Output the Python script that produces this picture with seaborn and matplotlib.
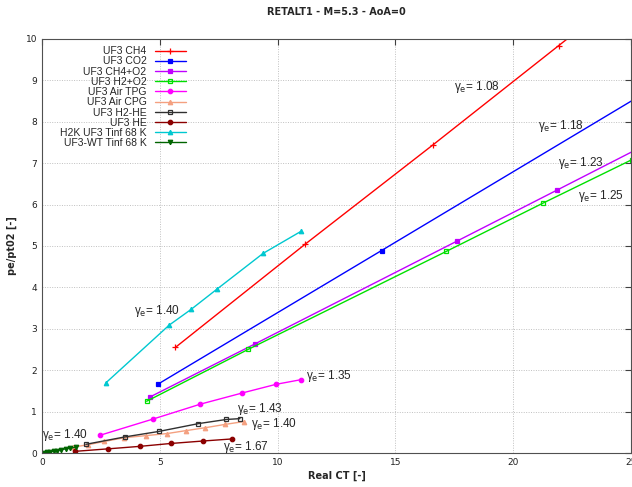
#! /usr/bin/env python

import numpy as np
import seaborn as sns
import matplotlib.pyplot as plt

sns.set_style('white')

# data (Real CT, pe/pt02)
ch4_x = [5.66, 11.16, 16.61, 21.93, 27.2]
ch4_y = [2.55, 5.04, 7.45, 9.84, 12.2]
co2_x = [4.94, 14.41, 30.0]
co2_y = [1.67, 4.89, 10.2]
ch4o2_x = [4.57, 9.02, 17.62, 21.86, 26.5]
ch4o2_y = [1.35, 2.63, 5.12, 6.35, 7.70]
h2o2_x = [4.44, 8.74, 17.16, 21.28, 25.02]
h2o2_y = [1.25, 2.50, 4.87, 6.04, 7.08]
tpg_x = [2.47, 4.71, 6.72, 8.50, 9.94, 10.98]
tpg_y = [0.43, 0.82, 1.18, 1.45, 1.66, 1.77]
cpg_x = [1.30, 1.95, 2.65, 3.50, 4.41, 5.31, 6.10, 6.92, 7.76, 8.57]
cpg_y = [0.14, 0.20, 0.28, 0.37, 0.42, 0.47, 0.54, 0.61, 0.69, 0.76]
h2he_x = [1.86, 3.53, 4.95, 6.64, 7.82, 8.40]
h2he_y = [0.21, 0.39, 0.52, 0.71, 0.81, 0.83]
he_x = [1.40, 2.79, 4.14, 5.46, 6.84, 8.07]
he_y = [0.04, 0.10, 0.16, 0.23, 0.29, 0.34]
h2k_x = [2.72, 5.40, 6.33, 7.43, 9.38, 10.98]
h2k_y = [1.70, 3.09, 3.47, 3.96, 4.82, 5.35]
wt_x = [0.05, 0.2, 0.35, 0.5, 0.65, 0.8, 1.0, 1.2, 1.45]
wt_y = [0.01, 0.02, 0.03, 0.05, 0.06, 0.08, 0.10, 0.12, 0.14]

# gamma_e annotations: (x, y, text)
gamma_labels = [
    (17.49, 8.85, '1.08'),
    (21.06, 7.90, '1.18'),
    (21.90, 7.00, '1.23'),
    (22.75, 6.21, '1.25'),
    (11.19, 1.87, '1.35'),
    (8.28, 1.07, '1.43'),
    (8.88, 0.71, '1.40'),
    (7.69, 0.14, '1.67'),
    (0.01, 0.44, '1.40'),
    (3.89, 3.43, '1.40'),
]

series = [
    ('UF3 CH4', ch4_x, ch4_y, '#ff0000', '+', True),
    ('UF3 CO2', co2_x, co2_y, '#0000ff', 's', True),
    ('UF3 CH4+O2', ch4o2_x, ch4o2_y, '#c000ff', 's', True),
    ('UF3 H2+O2', h2o2_x, h2o2_y, '#00e000', 's', False),
    ('UF3 Air TPG', tpg_x, tpg_y, '#ff00ff', 'o', True),
    ('UF3 Air CPG', cpg_x, cpg_y, '#f4a080', '^', True),
    ('UF3 H2-HE', h2he_x, h2he_y, '#303030', 's', False),
    ('UF3 HE', he_x, he_y, '#8b0000', 'o', True),
    ('H2K UF3 Tinf 68 K', h2k_x, h2k_y, '#00c8d0', '^', True),
    ('UF3-WT Tinf 68 K', wt_x, wt_y, '#006400', 'v', True),
]


def main():
    fig = plt.figure(figsize=(6.32, 4.87), dpi=100)
    ax = fig.add_axes([0.0665, 0.0698, 0.932, 0.8502])

    for label, x, y, color, marker, filled in series:
        sns.lineplot(
            x=x, y=y, ax=ax, sort=False, label=label, color=color,
            marker=marker, markersize=3.2 if marker != '+' else 5,
            markeredgecolor=color, markeredgewidth=0.9,
            markerfacecolor=color if filled else 'none',
            linewidth=1,
        )

    # gamma_e labels next to the curves
    for x, y, txt in gamma_labels:
        ax.text(x, y, 'γ$_{\\rm e}$= ' + txt, fontsize=8.5,
                family='Liberation Sans', va='center', ha='left')

    ax.set_xlim(0, 25)
    ax.set_ylim(0, 10)
    ax.set_xticks(np.arange(0, 26, 5))
    ax.set_yticks(np.arange(0, 11, 1))
    ax.grid(True, color='#c0c0c0', linestyle=(0, (1, 1.5)), linewidth=0.7)
    ax.tick_params(direction='in', length=4, width=0.8, labelsize=6.5,
                   top=True, right=True, colors='#404040', labelcolor='#202020')
    for s in ax.spines.values():
        s.set_color('#505050')
        s.set_linewidth(0.8)

    ax.set_title('RETALT1 - M=5.3 - AoA=0', fontsize=7, fontweight='bold', pad=17)
    ax.set_xlabel('Real CT [-]', fontsize=7, fontweight='bold', labelpad=3)
    ax.set_ylabel('pe/pt02 [-]', fontsize=7, fontweight='bold', labelpad=6)

    ax.legend(loc='upper left', bbox_to_anchor=(0.018, 1.0), frameon=False,
              markerfirst=False, handlelength=3.0, handletextpad=0.8,
              labelspacing=0.02, borderaxespad=0.3,
              prop={'family': 'Liberation Sans', 'size': 7.5})

    fig.savefig('out.png', dpi=100)


if __name__ == "__main__":
    main()
